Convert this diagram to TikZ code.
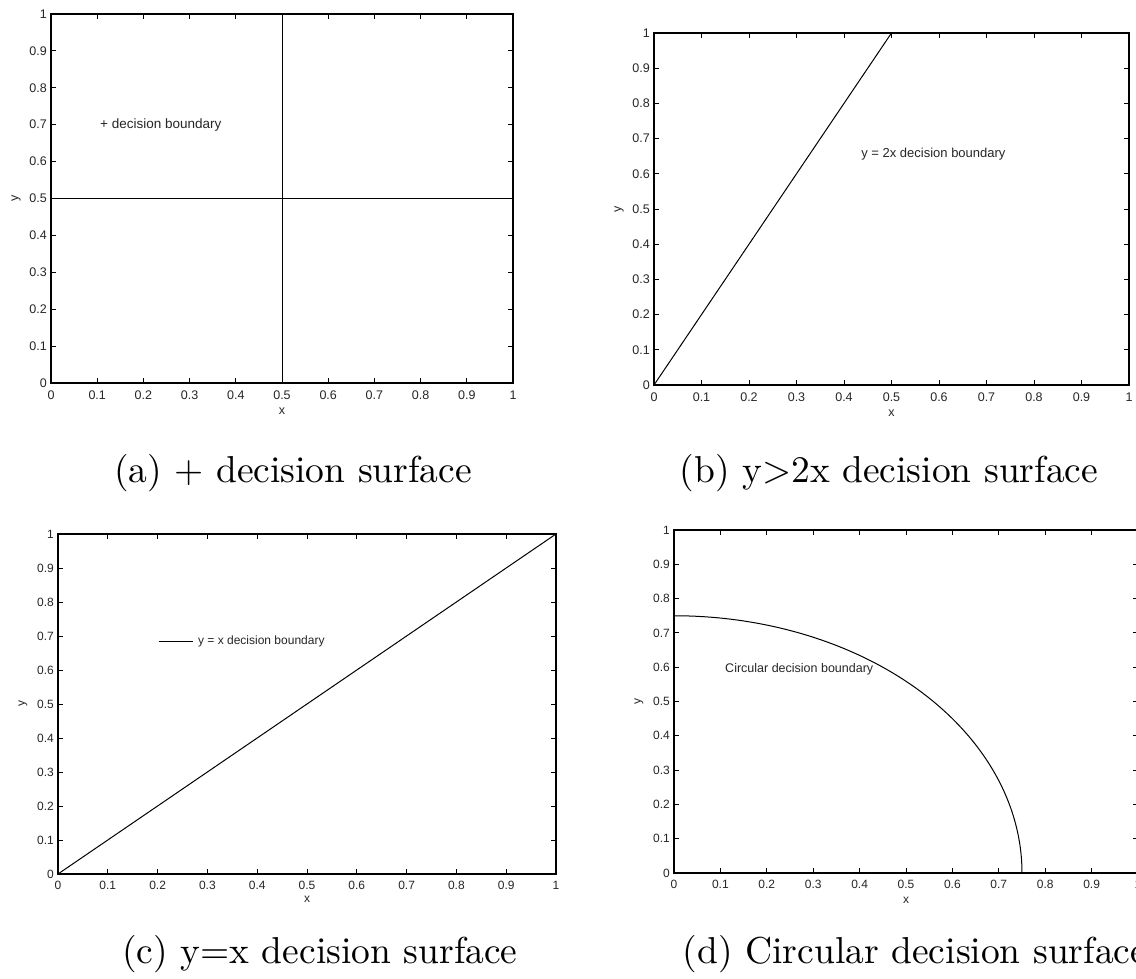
\documentclass[tikz,border=0pt]{standalone}
\usepackage{fontspec}
\newfontfamily\axfont{Liberation Sans}
\newfontfamily\capfont{lmroman10-regular}[Extension=.otf]
\newcommand\mkaxes[4]{% #1 prefix, #2 tick-label size, #3 x-label offset, #4 tick-label offset
  \draw[frame] (0,0) rectangle (1,1);
  \foreach \i in {1,...,9}{
    \draw[tickmark] (\i/10,0) -- ++(0pt,5pt);
    \draw[tickmark] (\i/10,1) -- ++(0pt,-5pt);
    \draw[tickmark] (0,\i/10) -- ++(5pt,0pt);
    \draw[tickmark] (1,\i/10) -- ++(-5pt,0pt);
  }
  \foreach \i/\t in {0/0,1/0.1,2/0.2,3/0.3,4/0.4,5/0.5,6/0.6,7/0.7,8/0.8,9/0.9,10/1}{
    \node[tl=#2] (#1-x\i) at ([yshift=-#4]\i/10,0) {\t};
    \node[tl=#2, anchor=east] (#1-y\i) at ([xshift=-4pt]0,\i/10) {\t};
  }
  \node[tl=#2] (#1-xlab) at ([yshift=-#3]0.5,0) {x};
  \node[tl=#2, rotate=90] (#1-ylab) at ([xshift=-35pt]0,0.5) {y};
}
\begin{document}
\begin{tikzpicture}[x=1pt,y=1pt,
  frame/.style={line width=1.3pt, line cap=rect},
  tickmark/.style={line width=0.8pt},
  curve/.style={line width=1pt, line join=round},
  tl/.style={inner sep=0pt, text=black!85, font={\axfont\fontsize{#1}{#1}\selectfont}},
  note/.style={inner sep=0pt, anchor=west, text=black!85, font={\axfont\fontsize{#1}{#1}\selectfont}},
  caption/.style={inner sep=0pt, anchor=base, font={\capfont\fontsize{37.5}{40}\selectfont}}
]
\useasboundingbox (0,0) rectangle (1136,978);
\fill[white] (0,0) rectangle (1136,978);
\clip (0,0) rectangle (1136,978);

% (a)
\begin{scope}[shift={(51pt,595pt)}, x=462pt, y=369pt]
  \mkaxes{a}{12.5}{28pt}{12pt}
  \draw[curve] (0.5,0) -- (0.5,1);
  \draw[curve] (0,0.5) -- (1,0.5);
  \node[note=13.5] (a-note) at (0.106,0.7) {+ decision boundary};
\end{scope}
\node[caption] (capa) at (293,495) {(a) + decision surface};

% (b)
\begin{scope}[shift={(654pt,593pt)}, x=475pt, y=352pt]
  \mkaxes{b}{12.5}{28pt}{12pt}
  \draw[curve] (0,0) -- (0.5,1);
  \node[note=13] (b-note) at (0.436,0.655) {y = 2x decision boundary};
\end{scope}
\node[caption] (capb) at (889,495) {(b) y>2x decision surface};

% (c)
\begin{scope}[shift={(58pt,104pt)}, x=498pt, y=340pt]
  \mkaxes{c}{12}{25pt}{11pt}
  \draw[curve] (0,0) -- (1,1);
  \node[note=12] (c-note) at (0.281,0.685) {y = x decision boundary};
  \draw[curve] (0.202,0.685) -- (0.272,0.685);
\end{scope}
\node[caption] (capc) at (320,15) {(c) y=x decision surface};

% (d)
\begin{scope}[shift={(674pt,105pt)}, x=464pt, y=343pt]
  \mkaxes{d}{12}{27pt}{11pt}
  \draw[curve] plot[domain=0:90, samples=90, smooth] ({0.75*cos(\x)},{0.75*sin(\x)});
  \node[note=12.5] (d-note) at (0.11,0.595) {Circular decision boundary};
\end{scope}
\node[caption] (capd) at (915,15) {(d) Circular decision surface};
\end{tikzpicture}
\end{document}
